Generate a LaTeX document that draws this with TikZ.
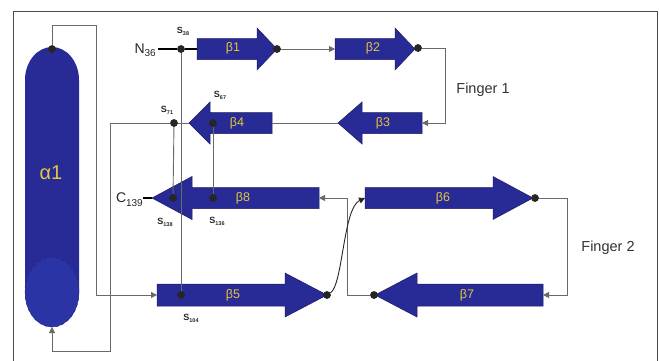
\documentclass[tikz,border=0pt]{standalone}
\usepackage{fontspec}
\setmainfont{Liberation Sans}
\usetikzlibrary{arrows.meta}
\definecolor{strandblue}{RGB}{40,42,150}
\definecolor{strandedge}{RGB}{28,28,95}
\definecolor{helixlight}{RGB}{42,52,165}
\definecolor{labelyellow}{RGB}{228,200,60}
\definecolor{linegray}{RGB}{105,105,105}
\tikzset{
  strand/.style={fill=strandblue,draw=strandedge,line width=0.5pt},
  link/.style={draw=linegray,line width=0.9pt},
  term/.style={draw=black,line width=1.4pt},
  tip/.style={-{Triangle[length=6pt,width=6pt]}},
  dot/.style={circle,fill=black!85,inner sep=0pt,minimum size=7.5pt},
  blab/.style={text=labelyellow,font=\fontsize{12.5}{12.5}\selectfont},
  slab/.style={font=\fontsize{9}{9}\selectfont\bfseries,text=black!85,inner sep=0pt},
  flab/.style={font=\fontsize{14.5}{14.5}\selectfont,text=black!80},
}
\newcommand{\ssub}[1]{S\raisebox{-1.8pt}{\fontsize{5.5}{5.5}\selectfont #1}}
\begin{document}
\begin{tikzpicture}[x=1pt,y=-1pt]
\useasboundingbox (0,0) rectangle (659,360);
\fill[white] (0,0) rectangle (659,360);
% frame
\draw[draw=black!70,line width=0.8pt] (13,362) -- (13,11) -- (657,11) -- (657,362);

% alpha 1 helix
\fill[strandblue] (25,292) -- (25,80) arc[start angle=180,end angle=360,x radius=27,y radius=33] -- (79,292) arc[start angle=0,end angle=180,x radius=27,y radius=35] -- cycle;
\draw[strandedge!50!strandblue,dashed,line width=0.5pt,fill=helixlight] (52,292) ellipse[x radius=27,y radius=35];
\node[text=labelyellow,font=\fontsize{20}{20}\selectfont] (a1lab) at (51,173) {α1};

% strands (arrow polygons)
% b1
\fill[strand] (197,38.5) -- (257,38.5) -- (257,28) -- (277,49) -- (257,70) -- (257,59.5) -- (197,59.5) -- cycle;
% b2
\fill[strand] (335,38.5) -- (395,38.5) -- (395,28) -- (415,49) -- (395,70) -- (395,59.5) -- (335,59.5) -- cycle;
% b3
\fill[strand] (422,112.5) -- (362,112.5) -- (362,102) -- (338,123) -- (362,144) -- (362,133.5) -- (422,133.5) -- cycle;
% b4
\fill[strand] (272,112.5) -- (210,112.5) -- (210,102) -- (189,123) -- (210,144) -- (210,133.5) -- (272,133.5) -- cycle;
% b8
\fill[strand] (319,187.5) -- (192,187.5) -- (192,176.5) -- (152,198) -- (192,219.5) -- (192,208.5) -- (319,208.5) -- cycle;
% b5
\fill[strand] (157,284) -- (285,284) -- (285,273) -- (327,295) -- (285,317) -- (285,306) -- (157,306) -- cycle;
% b6
\fill[strand] (365,187.5) -- (493,187.5) -- (493,176.5) -- (533,198) -- (493,219.5) -- (493,208.5) -- (365,208.5) -- cycle;
% b7
\fill[strand] (543,284) -- (417,284) -- (417,273) -- (375,295) -- (417,317) -- (417,306) -- (543,306) -- cycle;

% named points
\coordinate (b1in) at (197,49);
\coordinate (b2in) at (335,49);
\coordinate (b3in) at (422,123);
\coordinate (b3tip) at (338,123);
\coordinate (b4in) at (272,123);
\coordinate (b4tip) at (189,123);
\coordinate (b8in) at (319,198);
\coordinate (b8tip) at (152,198);
\coordinate (b5in) at (157,295);
\coordinate (b6in) at (365,198);
\coordinate (b7in) at (543,295);
\coordinate (a1bot) at (52,327);

\node[dot] (a1top) at (52,49) {};
\node[dot] (s38) at (181,49) {};
\node[dot] (b1end) at (277,49) {};
\node[dot] (b2end) at (418,48) {};
\node[dot] (s71) at (174,123) {};
\node[dot] (s67) at (213,123) {};
\node[dot] (s138) at (173,198) {};
\node[dot] (s136) at (213,198) {};
\node[dot] (s104) at (181,295) {};
\node[dot] (b5end) at (327,295) {};
\node[dot] (b6end) at (535,198) {};
\node[dot] (b7end) at (374,295) {};

% connectors
\draw[link] (s38) -- (s104);
\draw[link] (s71) -- (s138);
\draw[link] (s67) -- (s136);
\draw[link,tip] (b1end) -- (b2in);
\draw[link,tip] (b2end) -- (445,48) -- (445,123) -- (b3in);
\draw[link] (b3tip) -- (b4in);
\draw[link] (b4tip) -- (s71);
\draw[link,tip] (s71) -- (110,123) -- (110,351) -- (52,351) -- (a1bot);
\draw[link,tip] (a1top) -- (52,25) -- (96,25) -- (96,295) -- (b5in);
\draw[link,tip] (b6end) -- (567,198) -- (567,295) -- (b7in);
\draw[link,tip] (b7end) -- (347,295) -- (347,198) -- (b8in);
\draw[draw=black!85,line width=0.9pt,tip] (b5end) .. controls (343,285) and (343,208) .. (b6in);

% terminals
\node[font=\fontsize{14}{14}\selectfont,anchor=east,inner sep=0pt,text=black!85] (N36) at (156,50) {N\raisebox{-3pt}{\fontsize{10}{10}\selectfont 36}};
\node[font=\fontsize{14}{14}\selectfont,anchor=east,inner sep=0pt,text=black!85] (C139) at (143,200) {C\raisebox{-4pt}{\fontsize{10}{10}\selectfont 139}};
\draw[term] (N36.east) ++(2,-1) -- (s38) -- (b1in);
\draw[term] (C139.east) ++(0,-2) -- (b8tip);

% dots on top
\foreach \d in {a1top,s38,b1end,b2end,s71,s67,s138,s136,s104,b5end,b6end,b7end} \fill[black!85] (\d) circle[radius=3.75pt];

% strand labels
\node[blab] (l1) at (233,48) {β1};
\node[blab] (l2) at (373,48) {β2};
\node[blab] (l3) at (383,123) {β3};
\node[blab] (l4) at (237,123) {β4};
\node[blab] (l8) at (243,198) {β8};
\node[blab] (l5) at (233,295) {β5};
\node[blab] (l6) at (443,198) {β6};
\node[blab] (l7) at (467,295) {β7};

% residue labels
\node[slab] (t38) at (183,31) {\ssub{38}};
\node[slab] (t71) at (167,110) {\ssub{71}};
\node[slab] (t67) at (220,95) {\ssub{67}};
\node[slab] (t138) at (165,222) {\ssub{138}};
\node[slab] (t136) at (217,221) {\ssub{136}};
\node[slab] (t104) at (191,318) {\ssub{104}};

% finger labels
\node[flab] (f1) at (483,90) {Finger 1};
\node[flab] (f2) at (608,248) {Finger 2};
\end{tikzpicture}
\end{document}
